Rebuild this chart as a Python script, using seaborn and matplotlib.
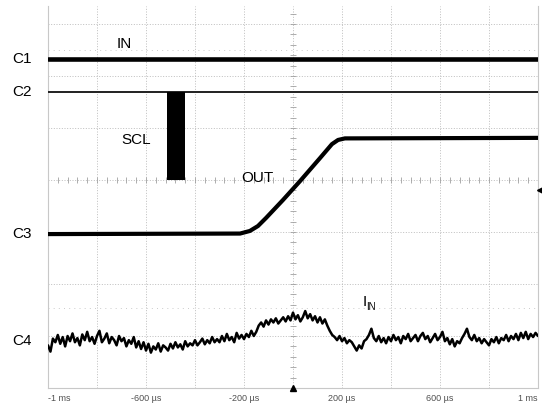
import numpy as np
import pandas as pd
import matplotlib
matplotlib.use("Agg")
import matplotlib.pyplot as plt
import seaborn as sns

# Time axis in microseconds, vertical axis in screen divisions (0 = centre line)
time_ticks = [-1000, -600, -200, 200, 600, 1000]
time_tick_labels = ["-1 ms", "-600 µs", "-200 µs", "200 µs", "600 µs", "1 ms"]

# C1: input voltage (flat)
in_t = [-1000, 1000]
in_div = [2.33, 2.33]

# C2: SCL idle level and the clock burst
scl_t = [-1000, 1000]
scl_div = [1.69, 1.69]
scl_burst_t = [-514, -441]
scl_burst_low = 0.0
scl_burst_high = 1.69

# C3: output voltage ramp
out_t = [-1000, -216, -176, -143, -110, -41, 29, 110, 159, 184, 212, 1000]
out_div = [-1.04, -1.03, -0.98, -0.885, -0.73, -0.385, -0.02, 0.42, 0.69, 0.77, 0.80, 0.81]

# C4: input current, sampled every 10 µs from -1 ms to +1 ms
iin_div = [
    -3.18, -3.30, -3.05, -3.12, -2.98, -3.15, -3.02, -3.20, -3.00, -3.10,
    -2.95, -3.12, -3.04, -3.18, -2.97, -3.08, -2.92, -3.10, -3.02, -3.15,
    -3.00, -2.90, -3.12, -3.05, -2.95, -3.14, -3.02, -3.08, -3.18, -3.00,
    -3.10, -3.04, -3.20, -3.08, -3.15, -3.02, -3.22, -3.10, -3.25, -3.12,
    -3.28, -3.15, -3.32, -3.20, -3.26, -3.14, -3.30, -3.18, -3.22, -3.28,
    -3.15, -3.24, -3.12, -3.22, -3.16, -3.26, -3.10, -3.20, -3.14, -3.18,
    -3.08, -3.18, -3.12, -3.05, -3.16, -3.08, -3.14, -3.02, -3.12, -3.06,
    -3.12, -3.00, -3.10, -2.96, -3.08, -3.02, -3.12, -2.94, -3.05, -2.98,
    -3.06, -2.96, -3.02, -2.90, -3.00, -2.92, -2.80, -2.74, -2.82, -2.70,
    -2.78, -2.68, -2.74, -2.66, -2.76, -2.70, -2.64, -2.72, -2.62, -2.70,
    -2.55, -2.68, -2.60, -2.72, -2.64, -2.52, -2.66, -2.58, -2.70, -2.62,
    -2.74, -2.64, -2.76, -2.68, -2.80, -2.90, -2.98, -3.02, -3.08, -3.00,
    -3.10, -3.04, -3.14, -3.08, -3.12, -3.20, -3.28, -3.18, -3.24, -3.10,
    -3.06, -2.98, -2.86, -3.04, -3.10, -3.00, -3.12, -3.04, -3.14, -3.02,
    -3.10, -2.98, -3.08, -3.02, -3.14, -3.00, -3.06, -2.96, -3.10, -3.04,
    -2.98, -3.10, -3.00, -2.94, -3.06, -3.00, -3.12, -3.04, -2.96, -3.08,
    -3.02, -2.92, -3.10, -3.04, -3.16, -3.06, -3.20, -3.10, -3.14, -3.04,
    -2.96, -2.86, -3.02, -3.08, -2.98, -3.10, -3.04, -3.14, -3.06, -3.12,
    -3.18, -3.06, -3.12, -3.02, -3.14, -3.04, -3.08, -2.98, -3.10, -3.00,
    -3.06, -2.96, -3.08, -2.94, -3.04, -2.92, -3.06, -2.96, -3.02, -2.94,
    -3.00,
]
iin_t = list(range(-1000, 1001, 10))

sns.set_theme(style="white")
plt.rcParams["font.family"] = ["Liberation Sans", "DejaVu Sans"]

W, H = 542, 403
fig = plt.figure(figsize=(W / 100, H / 100), dpi=100)
ax = fig.add_axes([48 / W, 15 / H, 490 / W, 382 / H])
ax.set_xlim(-1000, 1000)
ax.set_ylim(-4.0, 3.346)

grid_kw = dict(color="#b4b4b4", linewidth=0.6, linestyle=(0, (1.2, 2.0)), zorder=0)
for t in range(-800, 801, 200):
    ax.axvline(t, **grid_kw)
for d in range(-3, 4):
    ax.axhline(d, **grid_kw)
# sparse reference markers
for d in (2.5, -2.46):
    ax.axhline(d, color="#c4c4c4", linewidth=0.6, linestyle=(0, (1.2, 5.0)), zorder=0)

# minor ticks along the centre cross
ax.hlines(np.arange(-4, 3.4, 0.2), -11, 11, color="#a0a0a0", linewidth=0.6, zorder=0)
ax.vlines(np.arange(-1000, 1001, 40), -0.05, 0.05, color="#a0a0a0", linewidth=0.6, zorder=0)

df_in = pd.DataFrame({"t": in_t, "v": in_div})
df_scl = pd.DataFrame({"t": scl_t, "v": scl_div})
df_out = pd.DataFrame({"t": out_t, "v": out_div})
df_iin = pd.DataFrame({"t": iin_t, "v": iin_div})

sns.lineplot(data=df_in, x="t", y="v", ax=ax, color="black", linewidth=3.3, zorder=3)
sns.lineplot(data=df_scl, x="t", y="v", ax=ax, color="#202020", linewidth=1.4, zorder=3)
ax.fill_between(scl_burst_t, scl_burst_low, scl_burst_high, color="black", linewidth=0, zorder=3)
sns.lineplot(data=df_out, x="t", y="v", ax=ax, color="black", linewidth=3.0, zorder=3)
sns.lineplot(data=df_iin, x="t", y="v", ax=ax, color="black", linewidth=1.8, zorder=3)

ax.set_xlabel("")
ax.set_ylabel("")
ax.set_yticks([])
ax.set_xticks(time_ticks)
ax.set_xticklabels(time_tick_labels)
ax.tick_params(axis="x", length=0, labelsize=6.5, labelcolor="#505050", pad=4)
labels = ax.get_xticklabels()
labels[0].set_ha("left")
labels[-1].set_ha("right")

for side in ("left", "right", "bottom"):
    ax.spines[side].set_color("#c8c8c8")
    ax.spines[side].set_linewidth(0.8)
ax.spines["top"].set_visible(False)

# trigger markers
ax.plot([0], [-4.0], marker="^", color="black", markersize=4.5, clip_on=False, zorder=5)
ax.plot([1010], [-0.19], marker="<", color="black", markersize=4.5, clip_on=False, zorder=5)

# channel labels
txt = dict(fontsize=11, color="black", va="center")
for name, level in (("C1", 2.33), ("C2", 1.69), ("C3", -1.04), ("C4", -3.10)):
    ax.text(-1145, level, name, ha="left", **txt)
ax.text(-690, 2.62, "IN", ha="center", **txt)
ax.text(-640, 0.77, "SCL", ha="center", **txt)
ax.text(-145, 0.03, "OUT", ha="center", **txt)
ax.text(286, -2.35, "I", ha="left", **txt)
ax.text(300, -2.45, "IN", ha="left", fontsize=7, color="black", va="center")

fig.savefig("out.png", dpi=100, facecolor="white")
